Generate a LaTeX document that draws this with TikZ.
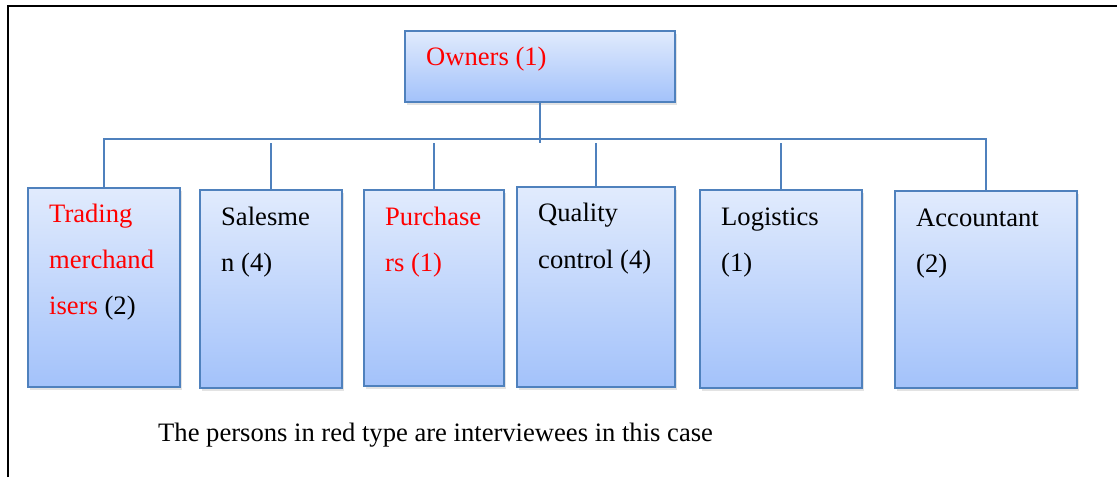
\documentclass[tikz,border=0pt]{standalone}
\usepackage{fontspec}
\setmainfont{Liberation Serif}
\usetikzlibrary{shadows}
\definecolor{boxline}{RGB}{79,129,189}
\definecolor{boxtop}{RGB}{225,235,253}
\definecolor{boxbottom}{RGB}{163,194,250}
\definecolor{keyred}{RGB}{255,0,0}
\tikzset{
  orgbox/.style={rectangle, draw=boxline, line width=2pt,
    top color=boxtop, bottom color=boxbottom,
    drop shadow={opacity=0.22, shadow xshift=2pt, shadow yshift=-3pt},
    inner sep=0pt},
  link/.style={draw=boxline, line width=2pt},
  label/.style={anchor=base west, inner sep=0pt, font=\fontsize{26.6}{30}\selectfont},
  frame/.style={draw=black, line width=2pt}
}
\begin{document}
\begin{tikzpicture}[x=1pt, y=-1pt]
\useasboundingbox (0,0) rectangle (1117,477);
% outer frame (top and left edges)
\draw[frame] (8,477) -- (8,5.5) -- (1117,5.5);

% boxes
\node[orgbox, minimum width=270pt, minimum height=71pt] (owners) at (540,66) {};
\node[orgbox, minimum width=152pt, minimum height=199pt] (trading) at (104.3,287) {};
\node[orgbox, minimum width=142pt, minimum height=198pt] (sales) at (271,289) {};
\node[orgbox, minimum width=140pt, minimum height=196pt] (purch) at (434,288) {};
\node[orgbox, minimum width=158pt, minimum height=200pt] (quality) at (595.5,287) {};
\node[orgbox, minimum width=162pt, minimum height=198pt] (logist) at (781,288.5) {};
\node[orgbox, minimum width=182pt, minimum height=197pt] (account) at (985.5,289.5) {};

% connectors
\coordinate (stem) at (540,142.7);
\coordinate (busmid) at (540,139.3);
\coordinate (dsales) at (271,143.3);
\coordinate (dpurch) at (434,143.3);
\coordinate (dquality) at (595.5,143.3);
\coordinate (dlogist) at (781,143.3);
\draw[link] (owners.south) -- (stem);
\draw[link] (trading.north) |- (busmid) -| (account.north);
\draw[link] (dsales) -- (sales.north);
\draw[link] (dpurch) -- (purch.north);
\draw[link] (dquality) -- (quality.north);
\draw[link] (dlogist) -- (logist.north);

% box texts
\node[label, text=keyred] (t-owners) at (426,65) {Owners (1)};

\node[label, text=keyred] (t-trading1) at (49,222) {Trading};
\node[label, text=keyred] (t-trading2) at (49,268) {merchand};
\node[label] (t-trading3) at (49,314) {\textcolor{keyred}{isers} (2)};

\node[label] (t-sales1) at (221,225) {Salesme};
\node[label] (t-sales2) at (221,271.7) {n (4)};

\node[label, text=keyred] (t-purch1) at (385,225) {Purchase};
\node[label, text=keyred] (t-purch2) at (385,271.7) {rs (1)};

\node[label] (t-quality1) at (538,221.7) {Quality};
\node[label] (t-quality2) at (538,268.3) {control (4)};

\node[label] (t-logist1) at (721,225) {Logistics};
\node[label] (t-logist2) at (721,271.7) {(1)};

\node[label] (t-account1) at (916,226) {Accountant};
\node[label] (t-account2) at (916,272) {(2)};

% note under the chart
\node[label] (note) at (158,441) {The persons in red type are interviewees in this case};
\end{tikzpicture}
\end{document}
